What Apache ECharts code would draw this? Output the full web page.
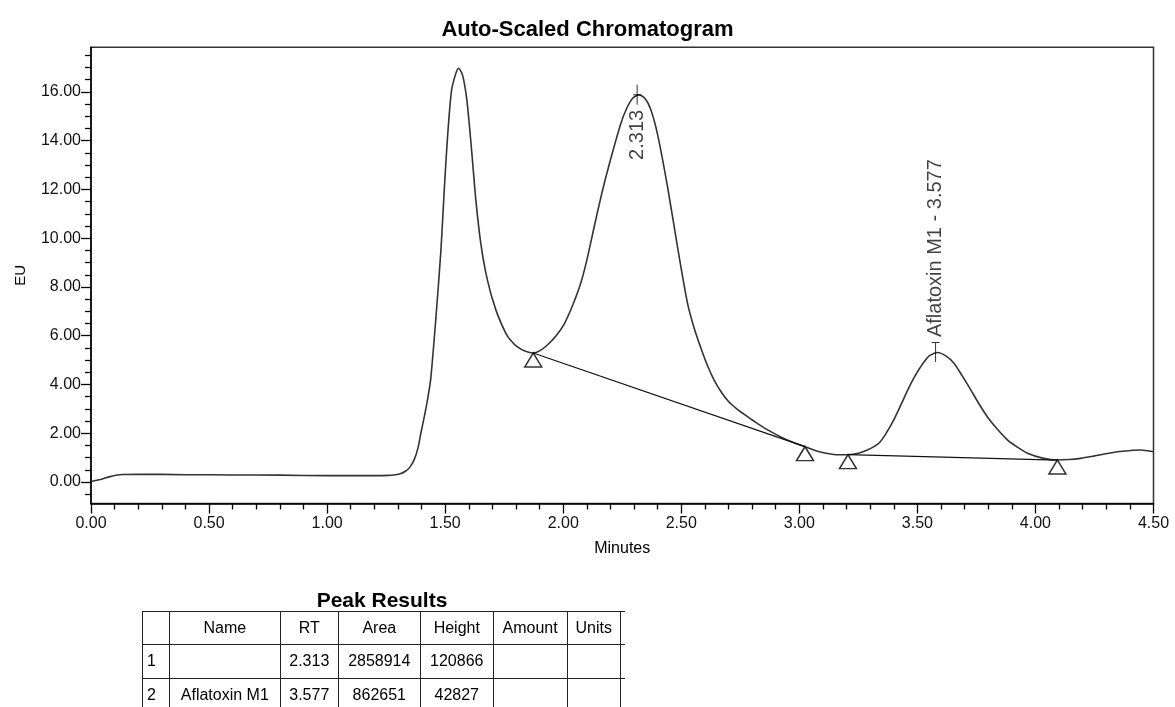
<!DOCTYPE html>
<html>
<head>
<meta charset="utf-8">
<script src="https://cdn.jsdelivr.net/npm/echarts@6/dist/echarts.min.js"></script>
<style>
html,body{margin:0;padding:0;width:1175px;height:707px;overflow:hidden;background:#fff;font-family:'Liberation Sans',Arial,sans-serif;}
#chart{position:absolute;left:0;top:0;width:1175px;height:707px;}
#ptitle{position:absolute;left:143px;width:478px;top:588px;text-align:center;font-weight:bold;font-size:21px;line-height:24px;color:#000;}
#ptable{position:absolute;left:142px;top:611px;border-collapse:collapse;font-size:16px;color:#000;table-layout:fixed;}
#ptable td{border:1.5px solid #222;padding:0;text-align:center;white-space:nowrap;overflow:hidden;}
#ptable tr{height:33.3px;}
#ptable td.idx{text-align:left;padding-left:4px;}
#ptable td.x{border-right:none;}
</style>
</head>
<body>
<div id="chart"></div>
<div id="ptitle">Peak Results</div>
<table id="ptable"><colgroup id="cols"></colgroup><tbody id="tbody"></tbody></table>
<script>
// ---- chromatogram data (minutes, EU) ----
const times = [0.00,0.04,0.08,0.12,0.20,0.40,0.60,0.80,1.00,1.20,1.26,1.29,1.31,1.33,1.35,1.369,1.385,1.397,1.411,1.425,1.439,1.461,1.482,1.496,1.510,1.527,1.545,1.557,1.574,1.592,1.612,1.630,1.651,1.679,1.715,1.757,1.780,1.806,1.840,1.873,1.900,1.933,1.970,2.004,2.040,2.074,2.100,2.131,2.160,2.188,2.244,2.270,2.295,2.321,2.345,2.370,2.399,2.442,2.484,2.526,2.555,2.583,2.610,2.639,2.670,2.700,2.735,2.770,2.810,2.851,2.921,2.970,3.024,3.070,3.119,3.165,3.206,3.250,3.288,3.316,3.340,3.360,3.380,3.400,3.420,3.440,3.458,3.490,3.514,3.550,3.585,3.620,3.655,3.690,3.726,3.760,3.796,3.840,3.881,3.925,3.966,4.030,4.093,4.140,4.191,4.250,4.304,4.370,4.445,4.500];
const euValues = [0.02,0.10,0.22,0.30,0.32,0.30,0.29,0.28,0.26,0.26,0.27,0.30,0.34,0.43,0.60,0.92,1.40,2.00,2.65,3.36,4.24,6.76,9.50,11.96,14.15,16.06,16.75,16.97,16.68,15.65,13.60,11.56,9.78,8.28,7.05,6.10,5.78,5.54,5.36,5.29,5.38,5.62,6.00,6.48,7.25,8.15,9.10,10.46,11.70,12.78,14.70,15.35,15.75,15.88,15.75,15.30,14.28,12.10,9.64,7.35,6.30,5.50,4.80,4.18,3.68,3.30,3.00,2.75,2.48,2.22,1.85,1.64,1.45,1.28,1.17,1.12,1.12,1.18,1.31,1.45,1.62,1.88,2.20,2.55,2.95,3.37,3.75,4.35,4.73,5.17,5.31,5.17,4.87,4.35,3.78,3.22,2.68,2.15,1.73,1.42,1.18,0.98,0.90,0.92,0.97,1.07,1.17,1.26,1.31,1.24];
const baseline1 = [[1.873,5.29],[3.024,1.45]];
const baseline2 = [[3.206,1.12],[4.093,0.90]];
const peakTimes = [2.313,3.577];
const peakHeights = [15.88,5.33];
const peakLabels = ['2.313','Aflatoxin M1 - 3.577'];
const yTickValues = [0,2,4,6,8,10,12,14,16];
const yMinorTickValues = [-0.5,0.5,1,1.5,2.5,3,3.5,4.5,5,5.5,6.5,7,7.5,8.5,9,9.5,10.5,11,11.5,12.5,13,13.5,14.5,15,15.5,16.5,17,17.5];
// ---- table ----
const tableHeaders = ['','Name','RT','Area','Height','Amount','Units',''];
const tableRows = [
  ['1','','2.313','2858914','120866','','',''],
  ['2','Aflatoxin M1','3.577','862651','42827','','','']
];
const colWidths = [26.6,111.4,57.6,82.4,72.6,74,53.4,5];

// build table
const cg = document.getElementById('cols');
colWidths.forEach(w => { const c = document.createElement('col'); c.style.width = w + 'px'; cg.appendChild(c); });
const tb = document.getElementById('tbody');
[tableHeaders].concat(tableRows).forEach(r => {
  const tr = document.createElement('tr');
  r.forEach((v, i) => {
    const td = document.createElement('td');
    td.textContent = v;
    if (i === 0) td.className = 'idx';
    if (i === r.length - 1) td.className = 'x';
    tr.appendChild(td);
  });
  tb.appendChild(tr);
});

const FONT = "'Liberation Sans', Arial, sans-serif";
const chart = echarts.init(document.getElementById('chart'), null, {renderer: 'canvas'});
const trianglePts = baseline1.concat(baseline2);
const peakSymbols = [
  'path://M0,9.5H8V10.5H0Z M3.5,0H4.5V20H3.5Z',
  'path://M0,0H8V1H0Z M3.5,0H4.5V20H3.5Z'
];
const peakData = peakTimes.map((t, i) => ({
  value: [t, peakHeights[i]],
  symbol: peakSymbols[i],
  label: i === 0
    ? {show: true, formatter: peakLabels[i], position: 'bottom', distance: 5, rotate: 90, align: 'right', verticalAlign: 'middle'}
    : {show: true, formatter: peakLabels[i], position: 'top', distance: 5, rotate: 90, align: 'left', verticalAlign: 'middle'}
}));

chart.setOption({
  animation: false,
  backgroundColor: '#fff',
  title: {
    text: 'Auto-Scaled Chromatogram', left: 'center', top: 14,
    textStyle: {fontFamily: FONT, fontWeight: 'bold', fontSize: 22, color: '#000'}
  },
  grid: {left: 91, right: 21.5, top: 47.3, bottom: 203.5, show: true, borderColor: '#333', borderWidth: 1.5, backgroundColor: 'transparent'},
  xAxis: {
    type: 'value', min: 0, max: 4.5, interval: 0.5,
    name: 'Minutes', nameLocation: 'middle', nameGap: 37,
    nameTextStyle: {fontFamily: FONT, fontSize: 16, color: '#000'},
    axisLine: {show: true, onZero: false, lineStyle: {color: '#000', width: 1.5}},
    axisTick: {show: true, length: 10, lineStyle: {color: '#000', width: 1.3}},
    minorTick: {show: true, splitNumber: 5, length: 6, lineStyle: {color: '#000', width: 1.3}},
    axisLabel: {fontFamily: FONT, fontSize: 16, color: '#111', margin: 12, formatter: v => v.toFixed(2)},
    splitLine: {show: false}
  },
  yAxis: [{
    type: 'value', min: -0.882, max: 17.83,
    name: 'EU', nameLocation: 'middle', nameGap: 63,
    nameTextStyle: {fontFamily: FONT, fontSize: 15, color: '#000'},
    axisLine: {show: true, onZero: false, lineStyle: {color: '#000', width: 1.5}},
    axisTick: {show: true, length: 10, customValues: yTickValues, lineStyle: {color: '#000', width: 1.3}},
    axisLabel: {fontFamily: FONT, fontSize: 16, color: '#111', margin: 10, customValues: yTickValues, formatter: v => v.toFixed(2)},
    splitLine: {show: false}
  }, {
    type: 'value', min: -0.882, max: 17.83, position: 'left',
    axisLine: {show: false, onZero: false},
    axisTick: {show: true, length: 6, customValues: yMinorTickValues, lineStyle: {color: '#000', width: 1.3}},
    axisLabel: {show: false},
    splitLine: {show: false}
  }],
  series: [
    {
      type: 'line', data: times.map((t, i) => [t, euValues[i]]),
      smooth: 0.25, showSymbol: false, symbol: 'none',
      lineStyle: {color: '#333', width: 1.6}, z: 2
    },
    {type: 'line', data: baseline1, showSymbol: false, symbol: 'none', lineStyle: {color: '#111', width: 1.2}, z: 3},
    {type: 'line', data: baseline2, showSymbol: false, symbol: 'none', lineStyle: {color: '#111', width: 1.2}, z: 3},
    {
      type: 'scatter', data: trianglePts, symbol: 'triangle', symbolSize: [17, 14], symbolOffset: [0, '50%'],
      itemStyle: {color: '#fff', borderColor: '#000', borderWidth: 1.5}, z: 4
    },
    {
      type: 'scatter', data: peakData, symbolSize: [8, 20],
      itemStyle: {color: '#000', borderWidth: 0},
      label: {fontFamily: FONT, fontSize: 20, color: '#111'}, z: 5
    }
  ]
});
</script>
</body>
</html>
